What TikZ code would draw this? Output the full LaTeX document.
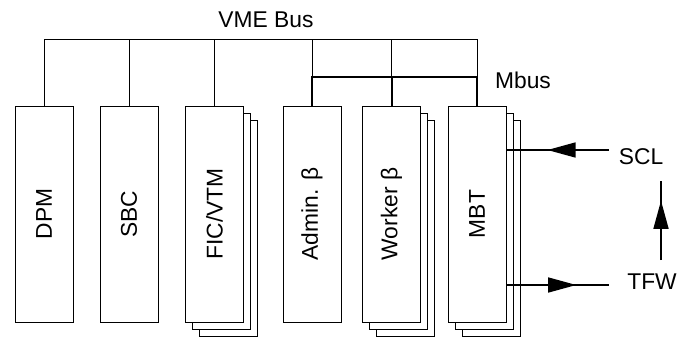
\documentclass[tikz,border=0pt]{standalone}
\usepackage{fontspec}
\setmainfont{Liberation Sans}
\usetikzlibrary{arrows.meta, positioning, calc, shadows, decorations.markings}
\tikzset{
  card/.style   = {draw=black, fill=white, line width=0.5pt, inner sep=0pt,
                   minimum width=29pt, minimum height=108pt},
  stack/.style  = {card,
                   copy shadow={shadow xshift=7pt, shadow yshift=-7pt, fill=white, draw=black, line width=0.5pt},
                   copy shadow={shadow xshift=3.5pt, shadow yshift=-3.5pt, fill=white, draw=black, line width=0.5pt}},
  bus/.style    = {draw=black, line width=0.5pt},
  mbus/.style   = {draw=black, line width=1pt},
  sig/.style    = {draw=black, line width=0.7pt},
  midarr/.style = {postaction={decorate}, decoration={markings,
                   mark=at position #1 with {\arrow{Triangle[length=14pt, width=7.5pt]}}}},
  tag/.style    = {inner sep=1pt},
}
\begin{document}
\begin{tikzpicture}[x=0.5pt, y=-0.5pt, font=\fontsize{11.4}{13.5}\selectfont]
\useasboundingbox (0,0) rectangle (688,337);
% --- boards in the crate -------------------------------------------------------------
\node[card]  (dpm) at (44,214)    [label={[rotate=90]center:DPM}] {};
\node[card]  (sbc) at (129,214)   [label={[rotate=90]center:SBC}] {};
\node[stack] (fic) at (214.5,214) [label={[rotate=90]center:FIC/VTM}] {};
\node[card]  (adm) at (312,214)   [label={[rotate=90]center:Admin. β}] {};
\node[stack] (wrk) at (391.5,214) [label={[rotate=90]center:Worker β}] {};
\node[stack] (mbt) at (477,214)   [label={[rotate=90]center:MBT}] {};

% --- VME bus and Mbus ----------------------------------------------------------------
\coordinate (vme) at (0,39);
\coordinate (mb)  at (0,77);
\node[tag] (vmelab) at (266,20) {VME Bus};
\node[tag] (mblab)  at (523,80) {Mbus};
\draw[bus] (dpm.north) |- (vme -| mbt.north) -- (mbt.north |- mb);
\foreach \b in {sbc,fic}
  \draw[bus] (\b.north) -- (\b.north |- vme);
\foreach \b in {adm,wrk}
  \draw[bus] (\b.north |- vme) -- (\b.north |- mb);
\draw[mbus] (adm.north) |- (mbt.north |- mb) -- (mbt.north);
\draw[mbus] (wrk.north |- mb) -- (wrk.north);

% --- trigger signals -----------------------------------------------------------------
\node[tag] (scl) at (641,157) {SCL};
\node[tag] (tfw) at (652,282) {TFW};
\coordinate (sclsrc) at (609,150);
\coordinate (tfwdst) at (609,285);
\coordinate (fblo) at (661,260);
\coordinate (fbhi) at (661,181);
\draw[sig, midarr=0.6]  (sclsrc) -- (sclsrc -| mbt.east);
\draw[sig, midarr=0.68] (tfwdst -| mbt.east) -- (tfwdst);
\draw[sig, midarr=0.75] (fblo) -- (fbhi);
\end{tikzpicture}
\end{document}
